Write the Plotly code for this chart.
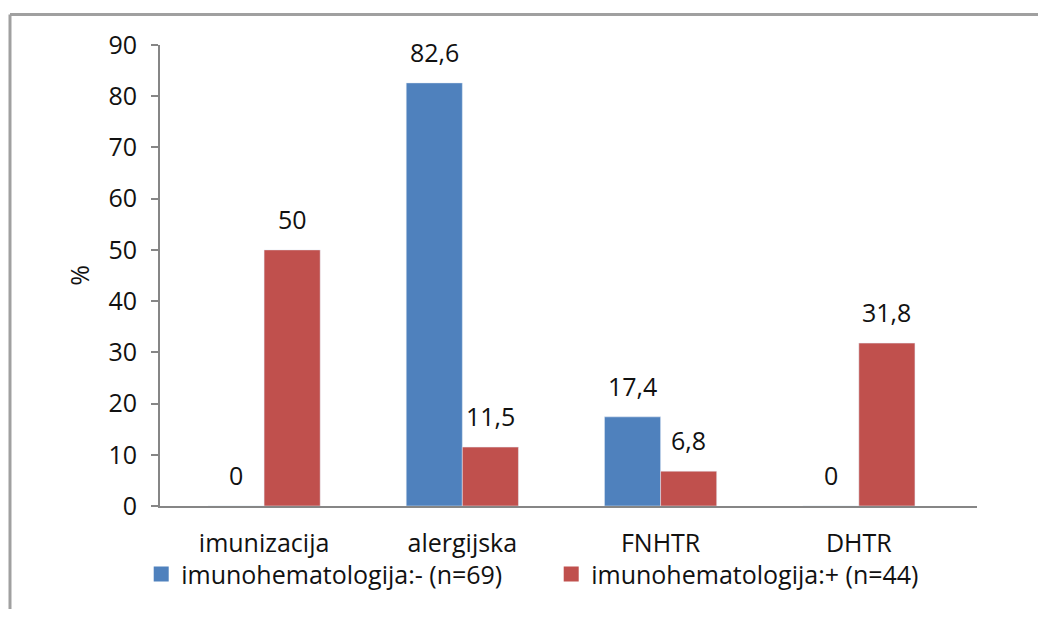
import plotly.graph_objects as go

categories = ["imunizacija", "alergijska", "FNHTR", "DHTR"]
neg_values = [0, 82.6, 17.4, 0]
pos_values = [50, 11.5, 6.8, 31.8]
neg_name = "imunohematologija:- (n=69)"
pos_name = "imunohematologija:+ (n=44)"
y_ticks = [0, 10, 20, 30, 40, 50, 60, 70, 80, 90]

BLUE = "#4F81BD"
RED = "#C0504D"
FONT = "Open Sans, Calibri, sans-serif"
FS = 25
BARGAP = 0.434


def fmt(v):
    return f"{v:g}".replace(".", ",")


fig = go.Figure()
fig.add_trace(go.Bar(x=categories, y=neg_values, name=neg_name, marker_color=BLUE, showlegend=False))
fig.add_trace(go.Bar(x=categories, y=pos_values, name=pos_name, marker_color=RED, showlegend=False))
# legend-only entries with larger square symbols
for name, col in ((neg_name, BLUE), (pos_name, RED)):
    fig.add_trace(go.Scatter(x=[None], y=[None], mode="markers", name=name,
                             marker=dict(symbol="square", size=15, color=col)))

half = (1 - BARGAP) / 4
annotations = []
for i, (a, b) in enumerate(zip(neg_values, pos_values)):
    for off, v in ((-half, a), (half, b)):
        annotations.append(dict(
            x=i + off, y=v, xref="x", yref="y", text=fmt(v), showarrow=False,
            yanchor="bottom", yshift=12, font=dict(family=FONT, size=FS, color="#111")))

frame = dict(color="#a0a0a0", width=3)
fig.update_layout(
    width=1030, height=601,
    margin=dict(l=152, r=61, t=37, b=101),
    paper_bgcolor="white", plot_bgcolor="white",
    barmode="group", bargap=BARGAP, bargroupgap=0,
    font=dict(family=FONT, size=FS, color="#111"),
    showlegend=True,
    legend=dict(orientation="h", x=-0.023, xanchor="left", y=-0.148, yanchor="middle",
                font=dict(family=FONT, size=FS, color="#111"), itemwidth=30,
                entrywidth=365, traceorder="normal", bgcolor="rgba(0,0,0,0)"),
    annotations=annotations,
    shapes=[
        dict(type="line", xref="paper", yref="paper", x0=-0.1836, x1=-0.1836, y0=-0.4, y1=1.066,
             line=frame, layer="below"),
        dict(type="line", xref="paper", yref="paper", x0=-0.1836, x1=1.2, y0=1.066, y1=1.066,
             line=frame, layer="below"),
    ],
)
fig.update_xaxes(range=[-0.525, 3.596], showline=True, linecolor="#868686", linewidth=2, ticks="",
                 showgrid=False, tickfont=dict(size=FS), ticklabelstandoff=14)
fig.update_yaxes(range=[0, 90], tickvals=y_ticks, showline=True, linecolor="#868686", linewidth=2,
                 ticks="outside", ticklen=7, tickcolor="#868686", tickwidth=2,
                 showgrid=False, zeroline=False, tickfont=dict(size=FS), ticklabelstandoff=9,
                 title=dict(text="%", font=dict(size=FS), standoff=12))

fig.write_html("out.html")
